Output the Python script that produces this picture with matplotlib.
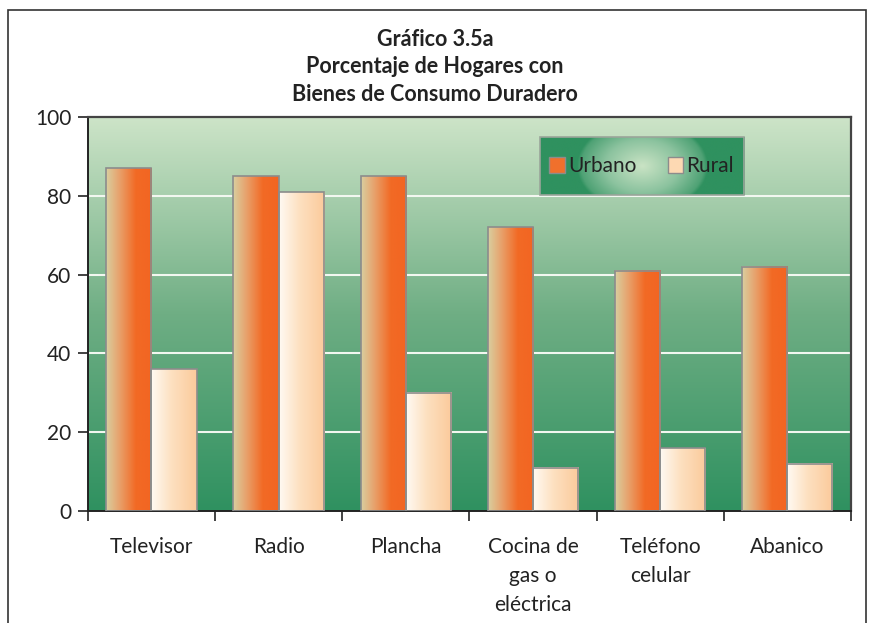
import numpy as np
import matplotlib
matplotlib.use('Agg')
import matplotlib.pyplot as plt
from matplotlib.colors import LinearSegmentedColormap
from matplotlib.patches import Rectangle, Patch

plt.rcParams['font.family'] = ['Lato', 'DejaVu Sans']

categories = ['Televisor', 'Radio', 'Plancha', 'Cocina de\ngas o\neléctrica', 'Teléfono\ncelular', 'Abanico']
urbano = [87, 85, 85, 72, 61, 62]
rural = [36, 81, 30, 11, 16, 12]
series_names = ['Urbano', 'Rural']

fig = plt.figure(figsize=(8.7, 6.23), dpi=100)
ax = fig.add_axes([0.101, 0.180, 0.877, 0.632])

# outer frame of the figure
fig.patches.append(Rectangle((8 / 870, -0.05), 858 / 870, 1 - 10 / 623 + 0.05,
                             transform=fig.transFigure, fill=False,
                             edgecolor='#333333', lw=1.2))

fig.text(0.5, 1 - 29 / 623, 'Gráfico 3.5a\nPorcentaje de Hogares con\nBienes de Consumo Duradero',
         ha='center', va='top', fontsize=15.5, fontweight='bold', color='#222222',
         linespacing=1.38)

# background gradient
bg = LinearSegmentedColormap.from_list('bg', ['#2f9160', '#6fae84', '#cde4c8'])
grad = np.linspace(0, 1, 256).reshape(-1, 1)
ax.imshow(grad, cmap=bg, origin='lower', aspect='auto', extent=[0, 1, 0, 1],
          transform=ax.transAxes, zorder=0)

x = np.arange(len(categories))
w = 0.355
b1 = ax.bar(x - w / 2, urbano, w, facecolor='none', edgecolor='#8c8c8c', lw=1.2, zorder=3)
b2 = ax.bar(x + w / 2, rural, w, facecolor='none', edgecolor='#8c8c8c', lw=1.2, zorder=3)

cm_u = LinearSegmentedColormap.from_list('u', [(0, '#d9cfa0'), (0.3, '#e8a06a'), (0.65, '#f26a25'), (1, '#f26522')])
cm_r = LinearSegmentedColormap.from_list('r', [(0, '#fffaf3'), (0.45, '#fde0c0'), (1, '#fbca9b')])
hgrad = np.linspace(0, 1, 256).reshape(1, -1)
for bars, cm in ((b1, cm_u), (b2, cm_r)):
    for p in bars:
        x0, y0, bw, bh = p.get_x(), p.get_y(), p.get_width(), p.get_height()
        ax.imshow(hgrad, cmap=cm, aspect='auto', extent=[x0, x0 + bw, y0, y0 + bh],
                  zorder=2, interpolation='bilinear')

ax.set_xlim(-0.5, len(categories) - 0.5)
ax.set_ylim(0, 100)
ax.set_yticks([0, 20, 40, 60, 80, 100])
for y in [20, 40, 60, 80]:
    ax.axhline(y, color='#f2f7f0', lw=1.5, zorder=1)

ax.set_xticks(x)
ax.set_xticklabels(categories, fontsize=15, color='#222222', linespacing=1.55)
ax.set_xticks(np.arange(len(categories) + 1) - 0.5, minor=True)
ax.tick_params(axis='x', which='major', length=0, pad=19)
ax.tick_params(axis='x', which='minor', length=7, width=1.2, direction='out', color='#222222')
ax.tick_params(axis='y', length=7, width=1.2, direction='out', labelsize=15, labelcolor='#222222',
               color='#222222', pad=5)

for s in ['left', 'bottom']:
    ax.spines[s].set_color('#222222')
    ax.spines[s].set_linewidth(1.4)
for s in ['top', 'right']:
    ax.spines[s].set_color('#444444')
    ax.spines[s].set_linewidth(1.6)

# legend box with radial gradient
lx0, lx1, ly0, ly1 = 0.592, 0.860, 0.802, 0.949
yy, xx = np.mgrid[-1:1:120j, -1:1:300j]
r = np.sqrt((xx * 300 / 120 / 1.0) ** 2 + yy ** 2) / 2.0
r = np.clip(r, 0, 1)
cm_l = LinearSegmentedColormap.from_list('l', [(0, '#c9e3c4'), (0.45, '#8cc39f'), (0.75, '#4fa275'), (0.8, '#2f915f'), (1, '#2f915f')])
ax.imshow(r, cmap=cm_l, aspect='auto', extent=[lx0, lx1, ly0, ly1], transform=ax.transAxes,
          zorder=4, interpolation='bilinear')
ax.add_patch(Rectangle((lx0, ly0), lx1 - lx0, ly1 - ly0, transform=ax.transAxes, fill=False,
                       edgecolor='#9aa59a', lw=1.2, zorder=5))
handles = [Patch(facecolor='#f0702c', edgecolor='#8c8c8c', label=series_names[0]),
           Patch(facecolor='#fdd9b3', edgecolor='#8c8c8c', label=series_names[1])]
leg = ax.legend(handles=handles, loc='center', bbox_to_anchor=((lx0 + lx1) / 2, (ly0 + ly1) / 2),
                ncol=2, frameon=False, fontsize=15, handlelength=0.75, handleheight=0.75,
                handletextpad=0.15, columnspacing=1.5)
leg.set_zorder(6)
for t in leg.get_texts():
    t.set_color('#222222')

fig.savefig('out.png', dpi=100)
